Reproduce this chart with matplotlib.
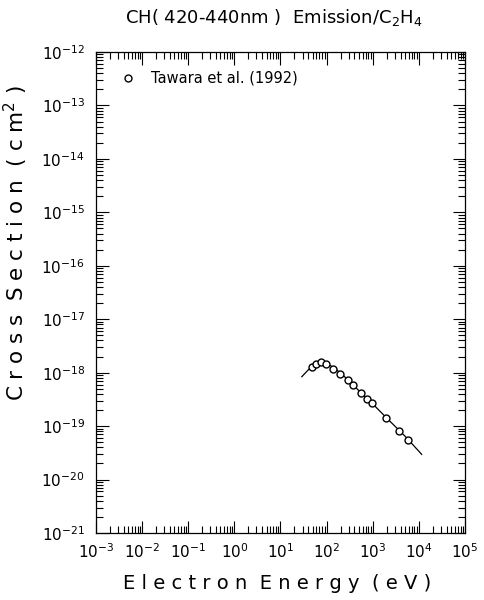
import numpy as np
import matplotlib.pyplot as plt
from matplotlib.ticker import LogLocator, NullFormatter

# Measured points (Tawara et al. 1992)
energy_ev = [47.5, 58, 74.5, 95.5, 140, 195, 290, 373, 556, 750, 948, 1940, 3770, 5730]
cross_section = [1.29e-18, 1.43e-18, 1.56e-18, 1.43e-18, 1.19e-18, 9.55e-19, 7.28e-19,
                 5.94e-19, 4.16e-19, 3.25e-19, 2.67e-19, 1.42e-19, 8.2e-20, 5.56e-20]

# Recommended (fitted) curve
fit_energy = [29, 35, 45, 60, 80, 100, 150, 200, 300, 500, 1000, 2000, 5000, 11500]
fit_cross = [8.4e-19, 1.0e-18, 1.25e-18, 1.42e-18, 1.5e-18, 1.48e-18, 1.22e-18, 9.8e-19,
             7.2e-19, 4.6e-19, 2.6e-19, 1.42e-19, 6.5e-20, 2.96e-20]

fig = plt.figure(figsize=(4.85, 6.0), dpi=100)
ax = fig.add_axes([96 / 485, 1 - 533 / 600, 369 / 485, 481 / 600])

ax.plot(fit_energy, fit_cross, color='black', linewidth=0.9)
ax.plot(energy_ev, cross_section, linestyle='none', marker='o', markersize=5,
        markerfacecolor='white', markeredgecolor='black', markeredgewidth=1.0,
        label='Tawara et al. (1992)')

ax.set_xscale('log')
ax.set_yscale('log')
ax.set_xlim(1e-3, 1e5)
ax.set_ylim(1e-21, 1e-12)

ax.xaxis.set_major_locator(LogLocator(base=10, numticks=20))
ax.yaxis.set_major_locator(LogLocator(base=10, numticks=20))
ax.xaxis.set_minor_locator(LogLocator(base=10, subs=np.arange(2, 10), numticks=100))
ax.yaxis.set_minor_locator(LogLocator(base=10, subs=np.arange(2, 10), numticks=100))
ax.xaxis.set_minor_formatter(NullFormatter())
ax.yaxis.set_minor_formatter(NullFormatter())

ax.tick_params(which='both', direction='in', top=True, right=True, labelsize=11)
ax.tick_params(which='major', length=9, width=0.8)
ax.tick_params(which='minor', length=5, width=0.8)
ax.tick_params(axis='x', pad=7)
ax.tick_params(axis='y', pad=8)
for s in ax.spines.values():
    s.set_linewidth(0.9)

ax.set_xlabel('E l e c t r o n  E n e r g y  ( e V )', fontsize=14)
ax.xaxis.set_label_coords(0.49, -0.085)
ax.set_ylabel('C r o s s  S e c t i o n  ( c m$^2$ )', fontsize=15.5)
ax.yaxis.set_label_coords(-0.18, 0.603)
fig.text(0.565, 0.97, 'CH( 420-440nm )  Emission/C$_2$H$_4$', ha='center', va='center',
         fontsize=13)

ax.legend(loc='upper left', frameon=False, fontsize=10.5, handletextpad=0.7,
          borderaxespad=0.9, handlelength=1.8)

fig.savefig('out.png', dpi=100)
